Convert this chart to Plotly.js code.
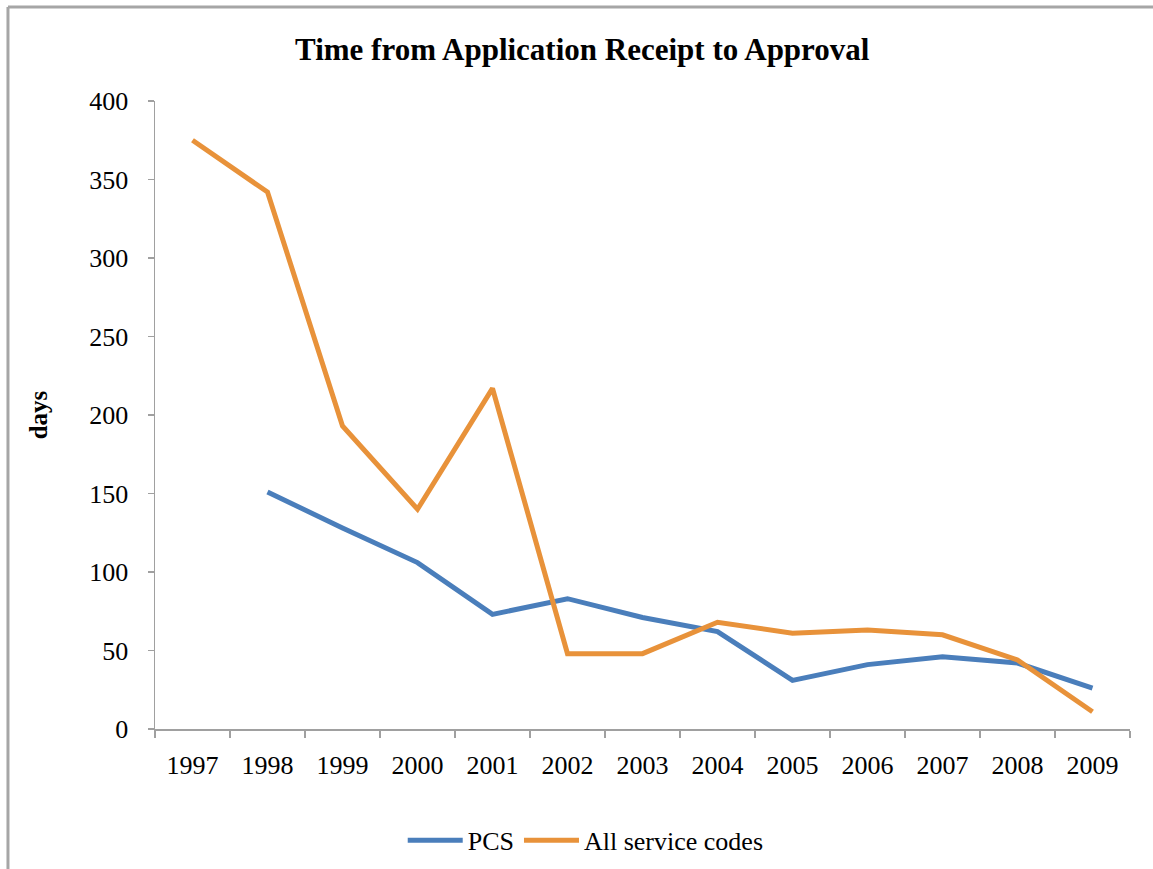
<!DOCTYPE html>
<html>
<head>
<meta charset="utf-8">
<script src="https://cdn.plot.ly/plotly-3.0.1.min.js"></script>
<style>html,body{margin:0;padding:0;background:#fff;}#chart{width:1153px;height:869px;}</style>
</head>
<body>
<div id="chart"></div>
<script>
const years = ["1997","1998","1999","2000","2001","2002","2003","2004","2005","2006","2007","2008","2009"];
const pcsYears = ["1998","1999","2000","2001","2002","2003","2004","2005","2006","2007","2008","2009"];
const pcsDays = [151, 128, 106, 73, 83, 71, 62, 31, 41, 46, 42, 26];
const allCodesDays = [375, 342, 193, 140, 217, 48, 48, 68, 61, 63, 60, 44, 11];
const yTicks = [0, 50, 100, 150, 200, 250, 300, 350, 400];

const serif = "Liberation Serif, Times New Roman, serif";
const axisGray = "#a0a0a0";

const traces = [
  {x: pcsYears, y: pcsDays, name: "PCS", type: "scatter", mode: "lines",
   line: {color: "#4A7EBB", width: 5}},
  {x: years, y: allCodesDays, name: "All service codes", type: "scatter", mode: "lines",
   line: {color: "#E8923A", width: 5}}
];

const layout = {
  width: 1153, height: 869,
  margin: {l: 155, r: 23, t: 101, b: 140},
  paper_bgcolor: "#fff", plot_bgcolor: "#fff",
  font: {family: serif, size: 26, color: "#000"},
  title: {text: "<b>Time from Application Receipt to Approval</b>",
          font: {family: serif, size: 31, color: "#000"},
          x: 0.505, xanchor: "center", y: 0.943, yanchor: "middle", yref: "container"},
  xaxis: {type: "category", categoryorder: "array", categoryarray: years,
          range: [-0.5, 12.5], showline: true, linecolor: axisGray, linewidth: 1.5,
          ticks: "outside", tickson: "boundaries", ticklen: 7, tickcolor: axisGray, tickwidth: 1.5,
          showgrid: false, zeroline: false, tickfont: {family: serif, size: 26},
          ticklabelstandoff: 12},
  yaxis: {range: [0, 400], tickvals: yTicks, showline: true, linecolor: axisGray, linewidth: 1.5,
          ticks: "outside", ticklen: 6, tickcolor: axisGray, tickwidth: 1.5,
          showgrid: false, zeroline: false, tickfont: {family: serif, size: 26},
          ticklabelstandoff: 14,
          title: {text: "<b>days</b>", font: {family: serif, size: 25}, standoff: 34}},
  showlegend: true,
  legend: {orientation: "h", xref: "container", yref: "container", x: 0.508, xanchor: "center",
           y: 0.033, yanchor: "middle", font: {family: serif, size: 26}, itemwidth: 55,
           tracegroupgap: 20, traceorder: "normal", bgcolor: "rgba(0,0,0,0)"},
  shapes: [
    {type: "line", xref: "paper", yref: "paper", x0: -0.1508, x1: 1.03, y0: 1.1497, y1: 1.1497,
     line: {color: "#a6a6a6", width: 3}},
    {type: "line", xref: "paper", yref: "paper", x0: -0.1508, x1: -0.1508, y0: 1.1497, y1: -0.23,
     line: {color: "#a6a6a6", width: 3}}
  ]
};

Plotly.newPlot("chart", traces, layout, {staticPlot: true, displayModeBar: false});
</script>
</body>
</html>
